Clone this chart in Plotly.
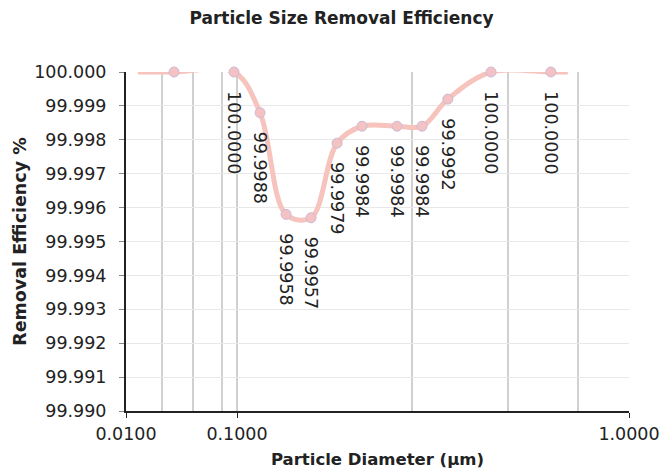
import plotly.graph_objects as go
import math

# ---- data ----
diameters = [0.0271, 0.094, 0.1145, 0.1334, 0.1545, 0.180, 0.2084, 0.256, 0.2965, 0.345, 0.4446, 0.632]
efficiency = [100.0000, 100.0000, 99.9988, 99.9958, 99.9957, 99.9979, 99.9984, 99.9984, 99.9984, 99.9992, 100.0000, 100.0000]
show_label = [False, True, True, True, True, True, True, True, True, True, True, True]
line_ends_d = [0.0128, 0.698]
line_ends_y = [100.0000, 100.0000]
major_ticks = [0.01, 0.1, 1.0]
major_tick_text = ["0.0100", "0.1000", "1.0000"]
minor_grid = [0.021, 0.040, 0.073, 0.28, 0.49, 0.74]
y_ticks = [99.990 + 0.001 * i for i in range(11)]

# axis scale of the original: two log decades of unequal width
DEC1, DEC2 = 111.0, 392.0


def scale(d):
    lg = math.log10(d)
    if lg <= -1:
        return DEC1 * (lg + 2)
    return DEC1 + DEC2 * (lg + 1)


xs = [scale(d) for d in diameters]
line_x = [scale(line_ends_d[0])] + xs + [scale(line_ends_d[1])]
line_y = [line_ends_y[0]] + efficiency + [line_ends_y[1]]

FONT = "DejaVu Sans"
TXT = "#222222"
fig = go.Figure()
fig.add_trace(go.Scatter(
    x=line_x, y=line_y, mode="lines", cliponaxis=False,
    line=dict(color="#f6c3bd", width=5, shape="spline", smoothing=1.0),
    hoverinfo="skip", showlegend=False))
fig.add_trace(go.Scatter(
    x=xs, y=efficiency, mode="markers", cliponaxis=False,
    marker=dict(color="#f4c2c2", size=10, line=dict(color="#cbbbd8", width=1)),
    showlegend=False))

for x, y, s in zip(xs, efficiency, show_label):
    if s:
        fig.add_annotation(x=x, y=y, text=f"{y:.4f}", showarrow=False, textangle=90,
                           xanchor="center", yanchor="top", yshift=-17,
                           font=dict(family=FONT, size=17.5, color=TXT))

fig.update_layout(
    width=667, height=474,
    margin=dict(l=118, r=46, t=64, b=71),
    paper_bgcolor="white", plot_bgcolor="white",
    title=dict(text="<b>Particle Size Removal Efficiency</b>", x=0.5, xanchor="center",
               y=0.979, yanchor="middle", font=dict(family=FONT, size=17, color=TXT)),
    font=dict(family=FONT, size=17.5, color=TXT),
)
fig.update_xaxes(
    range=[0, DEC1 + DEC2], tickmode="array",
    tickvals=[scale(v) for v in major_ticks], ticktext=major_tick_text,
    showgrid=True, gridcolor="#d0d0d0", gridwidth=2,
    showline=True, linecolor=TXT, linewidth=2,
    ticks="outside", ticklen=5, tickcolor=TXT,
    minor=dict(tickmode="array", tickvals=[scale(v) for v in minor_grid], showgrid=True,
               gridcolor="#d0d0d0", gridwidth=2, ticks=""),
    zeroline=False, automargin=False,
    ticklabelstandoff=1,
    title=dict(text="<b>Particle Diameter (µm)</b>", font=dict(family=FONT, size=16.5), standoff=10),
    tickfont=dict(family=FONT, size=17.5, color=TXT),
)
fig.update_yaxes(
    range=[99.990, 100.000], tickmode="array", tickvals=y_ticks,
    ticktext=[f"{v:.3f}" for v in y_ticks],
    showgrid=True, gridcolor="#e8e8e8", gridwidth=1,
    showline=True, linecolor=TXT, linewidth=2,
    ticks="outside", ticklen=5, tickcolor="#888888",
    zeroline=False, automargin=False,
    ticklabelstandoff=9,
    title=dict(text="<b>Removal Efficiency %</b>", font=dict(family=FONT, size=17.5), standoff=3),
    tickfont=dict(family=FONT, size=17.5, color=TXT),
)

fig.write_html("out.html")
